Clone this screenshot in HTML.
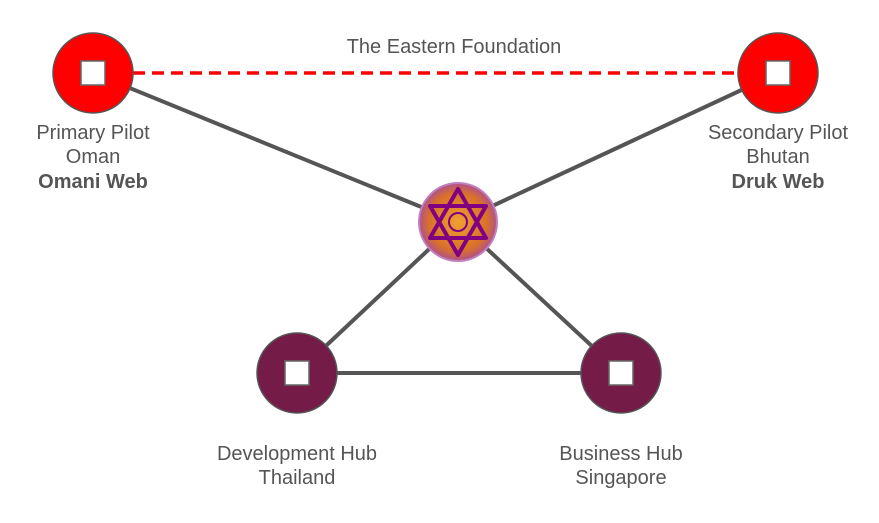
<!DOCTYPE html>
<html><head><meta charset="utf-8"><style>
body{margin:0;background:#fff;width:879px;height:523px;overflow:hidden}
svg{display:block}
text{font-family:"Liberation Sans",sans-serif;font-size:20px;fill:#555;text-anchor:middle}
</style></head><body>
<svg width="879" height="523">
<defs><radialGradient id="g" cx="50%" cy="50%" r="50%"><stop offset="0" stop-color="#f0a030"/><stop offset="0.75" stop-color="#d9702a"/><stop offset="1" stop-color="#b0508a"/></radialGradient></defs>
<g stroke="#555" stroke-width="4">
<line x1="93" y1="73" x2="458" y2="222"/>
<line x1="778" y1="73" x2="458" y2="222"/>
<line x1="297" y1="373" x2="458" y2="222"/>
<line x1="621" y1="373" x2="458" y2="222"/>
<line x1="297" y1="373" x2="621" y2="373"/>
</g>
<line x1="133" y1="73" x2="738" y2="73" stroke="#f00" stroke-width="3.5" stroke-dasharray="12,7"/>
<text x="454" y="53">The Eastern Foundation</text>
<g><circle cx="93" cy="73" r="40" fill="#f00" stroke="#555" stroke-width="1.5"/><rect x="81" y="61" width="24" height="24" fill="#fff" stroke="#666" stroke-width="1.5"/></g>
<g><circle cx="778" cy="73" r="40" fill="#f00" stroke="#555" stroke-width="1.5"/><rect x="766" y="61" width="24" height="24" fill="#fff" stroke="#666" stroke-width="1.5"/></g>
<g><circle cx="297" cy="373" r="40" fill="#741b47" stroke="#555" stroke-width="1.5"/><rect x="285" y="361" width="24" height="24" fill="#fff" stroke="#666" stroke-width="1.5"/></g>
<g><circle cx="621" cy="373" r="40" fill="#741b47" stroke="#555" stroke-width="1.5"/><rect x="609" y="361" width="24" height="24" fill="#fff" stroke="#666" stroke-width="1.5"/></g>
<g>
<circle cx="458" cy="222" r="39" fill="url(#g)" stroke="#c080c0" stroke-width="2"/>
<g fill="none" stroke="#800080" stroke-width="4" stroke-linejoin="round">
<polygon points="458,189 486,238 430,238"/>
<polygon points="458,255 486,206 430,206"/>
</g>
<circle cx="458" cy="222" r="9" fill="none" stroke="#800080" stroke-width="2"/>
</g>
<text x="93" y="139">Primary Pilot</text>
<text x="93" y="163">Oman</text>
<text x="93" y="188" font-weight="bold">Omani Web</text>
<text x="778" y="139">Secondary Pilot</text>
<text x="778" y="163">Bhutan</text>
<text x="778" y="188" font-weight="bold">Druk Web</text>
<text x="297" y="460">Development Hub</text>
<text x="297" y="484">Thailand</text>
<text x="621" y="460">Business Hub</text>
<text x="621" y="484">Singapore</text>
</svg>
</body></html>
